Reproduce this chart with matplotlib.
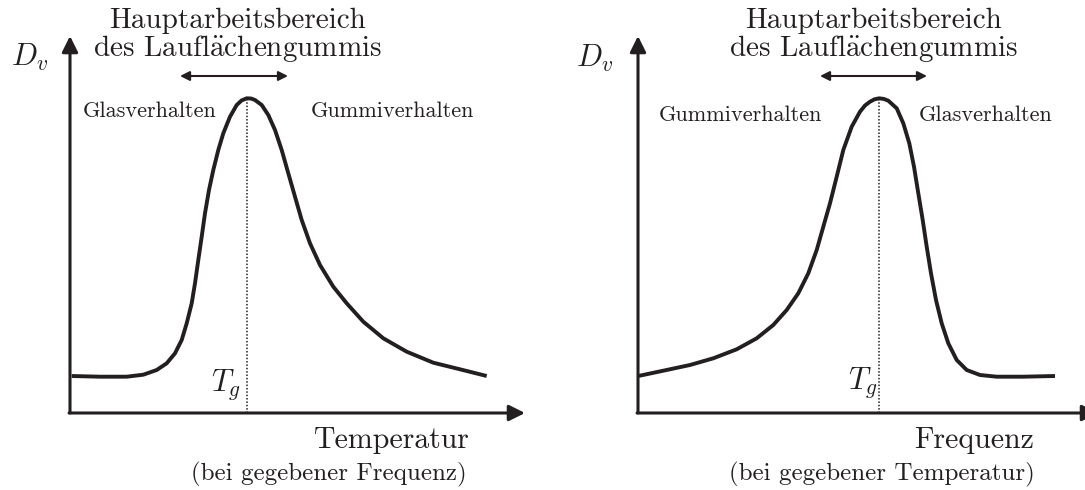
import matplotlib
matplotlib.use("Agg")
import matplotlib.pyplot as plt

plt.rcParams['mathtext.fontset'] = 'cm'
plt.rcParams['font.family'] = ['cmr10', 'DejaVu Serif']
plt.rcParams['axes.unicode_minus'] = False

INK = '#231f20'

# Schematic loss-factor curves (panel units: x right of y-axis, y above x-axis)
temp_x = [1.7, 30, 56.7, 73.3, 86.7, 96.7, 105, 111.7, 116.7, 121.7, 125, 128.3, 131.7,
          135, 139, 143.3, 148.3, 153.3, 160, 166.7, 171.5, 176.7, 181, 185, 191.7, 198.3,
          205, 211.7, 218.3, 225, 231.7, 240, 250, 263.3, 276.7, 293.3, 313.3, 336.7,
          363.3, 390, 416.7]
temp_y = [37, 36.3, 36.3, 38.3, 43, 49.7, 59.7, 73, 89.7, 109.7, 129.7, 153, 176.3,
          199.7, 223, 243, 263, 279.7, 296.3, 308, 312.5, 314.7, 314.5, 313, 308, 298,
          283, 263, 239.7, 216.3, 193, 169.7, 148, 126.3, 109.7, 91.3, 74.7, 61.3,
          50.3, 43.7, 37]

freq_x = [0.3, 25.3, 52, 75.3, 98.7, 118.7, 135.3, 148.7, 160.3, 170.3, 178.7, 185.3, 192,
          198.7, 205.3, 213.7, 222, 227, 232, 236.5, 241.3, 246, 250.3, 258.7, 265.3, 271.3,
          276, 280.3, 284.7, 288.7, 293, 298, 303.7, 310.3, 318.7, 328.7, 342, 358.7,
          385.3, 417]
freq_y = [37, 42.3, 48, 54.7, 63.7, 74.7, 88, 103, 119.7, 139.7, 163, 186.3, 209.7,
          236.3, 263, 286.3, 301.3, 307.5, 311.3, 313.7, 314.7, 314, 312.3, 304.7, 289.7,
          269.7, 246.3, 219.7, 193, 166.3, 139.7, 113, 89.7, 69.7, 53, 43, 38, 36.3,
          36.3, 37]

title_lines = ["Hauptarbeitsbereich", "des Laufl$\\ddot{\\mathrm{a}}$chengummis"]
ylabel = r"$D_v$"
tg_label = r"$T_g$"

panels = [
    dict(x=temp_x, y=temp_y, left_px=70, peak=176.7,
         regions=["Glasverhalten", "Gummiverhalten"], region_x=[80, 322], region_y=302,
         xlabel="Temperatur", sub="(bei gegebener Frequenz)",
         title_x=168, arrow=(110, 218), dv=(-40, 356), tg=(171, 28), xl_right=400,
         sub_right=397, arrow_end=455),
    dict(x=freq_x, y=freq_y, left_px=638, peak=241.3,
         regions=["Gummiverhalten", "Glasverhalten"], region_x=[102, 348], region_y=298,
         xlabel="Frequenz", sub="(bei gegebener Temperatur)",
         title_x=236, arrow=(182, 289), dv=(-43, 355), tg=(240, 30), xl_right=396,
         sub_right=397, arrow_end=460),
]

W, H = 1085, 490
fig = plt.figure(figsize=(W / 100, H / 100), dpi=100)
fig.patch.set_facecolor('white')

for p in panels:
    ax = fig.add_axes([p['left_px'] / W, (H - 413) / H, 455 / W, 375 / H])
    ax.set_xlim(0, 455)
    ax.set_ylim(0, 375)
    ax.axis('off')

    # axes arrows
    ax.annotate('', xy=(0, 377), xytext=(0, 0), annotation_clip=False,
                arrowprops=dict(arrowstyle='-|>', lw=2.2, color=INK,
                                mutation_scale=24, shrinkA=0, shrinkB=0))
    ax.annotate('', xy=(p['arrow_end'], 0), xytext=(-1, 0), annotation_clip=False,
                arrowprops=dict(arrowstyle='-|>', lw=2.2, color=INK,
                                mutation_scale=24, shrinkA=0, shrinkB=0))

    # curve
    ax.plot(p['x'], p['y'], color=INK, lw=2.8, solid_joinstyle='round',
            solid_capstyle='butt', clip_on=False)

    # dotted line at peak
    ax.plot([p['peak'], p['peak']], [0, max(p['y'])], color=INK, lw=1.1,
            linestyle=(0, (1, 1.2)), clip_on=False)

    # texts
    ax.text(p['dv'][0], p['dv'][1], ylabel, fontsize=22, ha='center', va='center',
            color=INK)
    ax.text(p['title_x'], 392.5, title_lines[0], fontsize=21, ha='center',
            va='center', color=INK)
    ax.text(p['title_x'], 364, title_lines[1], fontsize=21, ha='center',
            va='center', color=INK)
    ax.annotate('', xy=(p['arrow'][1], 337), xytext=(p['arrow'][0], 337),
                annotation_clip=False,
                arrowprops=dict(arrowstyle='<|-|>', lw=1.5, color=INK,
                                mutation_scale=14, shrinkA=0, shrinkB=0))
    for lab, rx in zip(p['regions'], p['region_x']):
        ax.text(rx, p['region_y'], lab, fontsize=16, ha='center', va='center',
                color=INK)
    ax.text(p['tg'][0], p['tg'][1], tg_label, fontsize=22, ha='right',
            va='center', color=INK)
    ax.text(p['xl_right'], -27, p['xlabel'], fontsize=21.5, ha='right',
            va='center', color=INK)
    ax.text(p['sub_right'], -61, p['sub'], fontsize=18, ha='right',
            va='center', color=INK)

fig.savefig('out.png', dpi=100, facecolor='white')
